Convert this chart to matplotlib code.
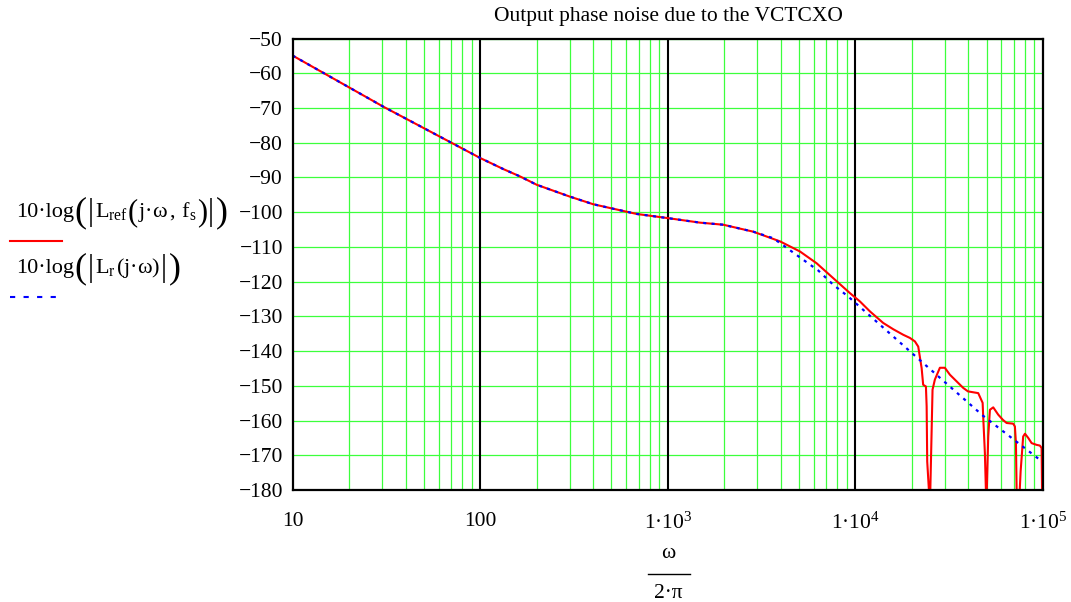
import matplotlib
matplotlib.use("Agg")
import matplotlib.pyplot as plt
from matplotlib.lines import Line2D
from matplotlib.ticker import NullLocator

# Reference-oscillator contribution at the output (dBc/Hz) vs offset (Hz)
f_ref = [10, 30.4, 100, 133, 163, 200, 300, 400, 512, 682, 1000, 1483, 1972,
         2850, 3963, 5060, 6210, 7620, 9348, 10570, 11970, 14070, 15910,
         17990, 19510, 20750, 21620, 22540, 22970, 23760, 23970, 24140,
         24960, 25770, 26520, 28200, 29970, 31890, 37560, 39810, 45150,
         47660, 47990, 48990, 49900, 51050, 52120, 54290, 57710, 61120,
         63970, 69340, 70820, 71740, 72570, 74400, 75990, 78390, 80150,
         83420, 86960, 92410, 96190, 98320, 99030, 100000]
l_ref = [-54.9, -69.6, -84.4, -87.6, -89.7, -92.1, -95.5, -97.7, -99.0,
         -100.5, -101.7, -103.0, -103.6, -105.6, -108.4, -111.3, -114.7,
         -119.0, -123.3, -125.7, -128.6, -131.9, -133.7, -135.3, -136.2,
         -137.2, -138.7, -144.9, -149.7, -150.2, -155.9, -171.8, -185.0,
         -151.1, -148.2, -144.8, -144.8, -146.8, -150.6, -151.6, -152.1,
         -154.9, -158.8, -169.3, -185.0, -164.6, -156.9, -156.2, -158.3,
         -159.8, -160.7, -160.9, -161.7, -166.5, -185.0, -185.0, -174.6,
         -164.6, -163.8, -165.0, -166.5, -167.0, -167.2, -167.9, -185.0,
         -185.0]

# Reference phase noise alone
f_r = [10, 30.4, 100, 133, 163, 200, 300, 400, 512, 682, 1000, 1483, 1972,
       2850, 3650, 4210, 5270, 6340, 7620, 9160, 21330, 47860, 96190, 100000]
l_r = [-54.9, -69.6, -84.4, -87.6, -89.7, -92.1, -95.5, -97.7, -99.0,
       -100.5, -101.7, -103.0, -103.6, -105.6, -107.5, -109.9, -113.7,
       -116.8, -120.9, -124.3, -141.9, -158.6, -171.3, -171.9]

y_ticks = list(range(-180, -49, 10))
x_ticks = [10, 100, 1e3, 1e4, 1e5]
x_labels = ["10", "100", r"$\mathrm{1·10^{3}}$", r"$\mathrm{1·10^{4}}$",
            r"$\mathrm{1·10^{5}}$"]

SERIF = "Liberation Serif"
plt.rcParams["font.family"] = SERIF
plt.rcParams["mathtext.fontset"] = "custom"
plt.rcParams["mathtext.rm"] = SERIF
plt.rcParams["mathtext.it"] = SERIF
plt.rcParams["mathtext.fallback"] = "stix"

GREEN = "#3cff3c"
FS = 15.5

fig = plt.figure(figsize=(10.71, 6.02), dpi=100)
W, H = 1071, 602
ax = fig.add_axes([292.7 / W, 1 - 490 / H, (1043 - 292.7) / W, (490 - 38.6) / H])

ax.set_xscale("log")
ax.set_xlim(10, 1e5)
ax.set_ylim(-180, -50)

# grid: green minor lines, black decade lines
for dec in [10, 100, 1000, 10000]:
    for m in range(2, 10):
        ax.axvline(dec * m, color=GREEN, lw=0.9, zorder=0)
for yv in y_ticks:
    ax.axhline(yv, color=GREEN, lw=0.9, zorder=0)
for dec in [100, 1000, 10000]:
    ax.axvline(dec, color="black", lw=1.5, zorder=1)

ax.plot(f_ref, l_ref, color="#ff0000", lw=1.5, zorder=3)
ax.plot(f_r, l_r, color="#0000ff", lw=1.6, ls=(0, (1.4, 2.4)), zorder=4)

for s in ax.spines.values():
    s.set_linewidth(1.6)
    s.set_color("black")
    s.set_zorder(5)

ax.set_yticks(y_ticks)
ax.set_yticklabels([f"\u2212{abs(v)}" for v in y_ticks], fontsize=FS)
ax.set_xticks(x_ticks)
ax.set_xticklabels(x_labels, fontsize=FS)
ax.xaxis.set_minor_locator(NullLocator())
ax.tick_params(axis="both", length=0)
ax.tick_params(axis="y", pad=7)
ax.tick_params(axis="x", pad=16)

fig.text(668 / W, 1 - 16 / H, "Output phase noise due to the VCTCXO",
         ha="center", va="center", fontsize=FS)

# x-axis quantity written as a fraction
fig.text(668 / W, 1 - 553 / H, "\u03c9", ha="center", va="center", fontsize=FS)
fig.add_artist(Line2D([648 / W, 690 / W], [1 - 574 / H, 1 - 574 / H],
                      color="black", lw=1.0))
fig.text(668 / W, 1 - 594 / H, "2\u00b7\u03c0", ha="center", va="center",
         fontsize=FS)


def text_row(x_px, base_px, pieces):
    """Lay out text pieces left to right on one baseline (pixel coords)."""
    r = fig.canvas.get_renderer()
    x = x_px
    for s, size, dy, gap in pieces:
        t = fig.text(x / W, 1 - (base_px - dy) / H, s, fontsize=size,
                     ha="left", va="baseline")
        x += t.get_window_extent(r).width + gap


# trace labels with their line keys
LF = 16
text_row(16, 217, [
    ("10·log", LF, 0, 0), ("(", 26, -4, 2), ("|", 22, -3, 1),
    (r"$\mathrm{L_{ref}}$", LF, 0, 0), ("(", 22, -3, 0),
    (r"$\mathrm{j·\omega\,,\,f_{s}}$", LF, 0, 0), (")", 22, -3, 1),
    ("|", 22, -3, 2), (")", 26, -4, 0)])
fig.add_artist(Line2D([10 / W, 62 / W], [1 - 241 / H, 1 - 241 / H],
                      color="#ff0000", lw=1.5))
text_row(16, 273, [
    ("10·log", LF, 0, 0), ("(", 26, -4, 2), ("|", 22, -3, 1),
    (r"$\mathrm{L_{r}}$", LF, 0, 0), (r"$\mathrm{(j·\omega)}$", LF, 0, 1),
    ("|", 22, -3, 2), (")", 26, -4, 0)])
fig.add_artist(Line2D([10 / W, 62 / W], [1 - 297 / H, 1 - 297 / H],
                      color="#0000ff", lw=1.5, ls=(0, (2.5, 4))))

fig.savefig("out.png", dpi=100)
